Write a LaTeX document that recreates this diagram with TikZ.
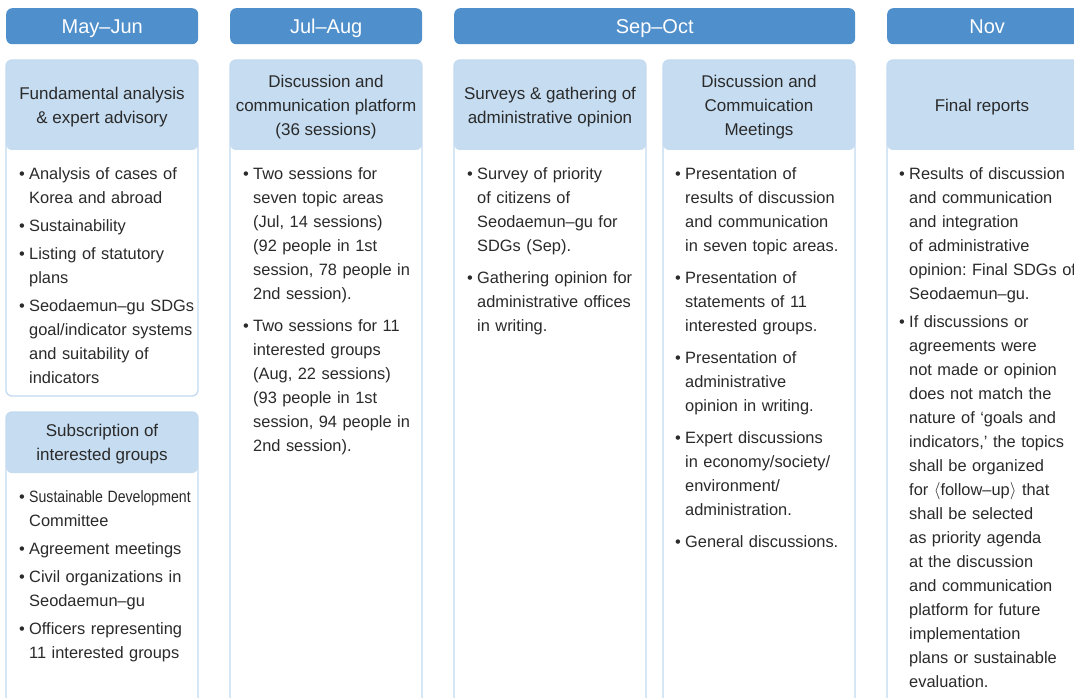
\documentclass[tikz,border=0pt]{standalone}
\usepackage{fontspec}
\usepackage{graphicx}
\setmainfont{Liberation Sans}
\usetikzlibrary{positioning}

\definecolor{monthblue}{HTML}{4F8FCB}
\definecolor{titleblue}{HTML}{C5DCF1}
\definecolor{edgeblue}{HTML}{C3DAF0}
\definecolor{ink}{HTML}{2A2A2A}

\frenchspacing
\newcommand\bul{\hangindent=10pt\hangafter=1\noindent\makebox[10pt][l]{\textbullet}\ignorespaces}
\newcommand\itm[1][4pt]{\par\vspace{#1}\bul}

\begin{document}
\begin{tikzpicture}[x=1pt,y=-1pt,
  month/.style={fill=monthblue,rounded corners=6pt,text=white,font=\fontsize{20}{24}\selectfont,
    minimum width=#1,minimum height=36pt,inner sep=0pt,text height=14.4pt,text depth=0pt,anchor=north west},
  card/.style n args={3}{draw=edgeblue,line width=1.3pt,fill=white,rounded corners=6pt,
    anchor=north west,inner sep=0pt,outer sep=0pt,minimum width=#1,minimum height=#2,
    path picture={\fill[titleblue] (path picture bounding box.north west)
      rectangle ([yshift=-#3]path picture bounding box.north east);}},
  ttl/.style={align=center,text=ink,inner sep=0pt,font=\fontsize{17}{24}\selectfont},
  lst/.style={align=left,text=ink,inner sep=0pt,anchor=north west,text width=190pt,
    font=\fontsize{16.4}{24}\selectfont}
]
\useasboundingbox (0,0) rectangle (1074,698);
\clip (0,0) rectangle (1074,698);

\node[month=192pt] (mayjun) at (6,8) {May–Jun};
\node[month=192pt] (julaug) at (230,8) {Jul–Aug};
\node[month=401pt] (sepoct) at (454,8) {Sep–Oct};
\node[month=200pt] (nov) at (887,8) {Nov};

\node[card={192pt}{336pt}{90pt}] (fund) at (6,60) {};
\node[card={192pt}{300pt}{61pt}] (subs) at (6,412) {};
\node[card={192pt}{660pt}{90pt}] (plat) at (230,60) {};
\node[card={192pt}{660pt}{90pt}] (surv) at (454,60) {};
\node[card={192pt}{660pt}{90pt}] (meet) at (663,60) {};
\node[card={200pt}{660pt}{90pt}] (final) at (887,60) {};

\node[ttl] (fundt) at (102,107) {Fundamental analysis\\\& expert advisory};
\node[ttl] (subst) at (102,444) {Subscription of\\interested groups};
\node[ttl] (platt) at (326,107) {Discussion and\\communication platform\\(36 sessions)};
\node[ttl] (survt) at (550,107) {Surveys \& gathering of\\administrative opinion};
\node[ttl] (meett) at (759,107) {Discussion and\\Commuication\\Meetings};
\node[ttl] (finalt) at (982,107) {Final reports};

\node[lst] (fundl) at (19,167) {\bul Analysis of cases of\newline Korea and abroad
  \itm Sustainability
  \itm Listing of statutory\newline plans
  \itm Seodaemun–gu SDGs\newline goal/indicator systems\newline and suitability of\newline indicators\par};
\node[lst] (subsl) at (19,490) {\bul \scalebox{0.86}[1]{Sustainable Development}\newline Committee
  \itm Agreement meetings
  \itm Civil organizations in\newline Seodaemun–gu
  \itm Officers representing\newline 11 interested groups\par};
\node[lst] (platl) at (243,167) {\bul Two sessions for\newline seven topic areas\newline (Jul, 14 sessions)\newline (92 people in 1st\newline session, 78 people in\newline 2nd session).
  \itm[8pt] Two sessions for 11\newline interested groups\newline (Aug, 22 sessions)\newline (93 people in 1st\newline session, 94 people in\newline 2nd session).\par};
\node[lst] (survl) at (467,167) {\bul Survey of priority\newline of citizens of\newline Seodaemun–gu for\newline SDGs (Sep).
  \itm[8pt] Gathering opinion for\newline administrative offices\newline in writing.\par};
\node[lst] (meetl) at (675,167) {\bul Presentation of\newline results of discussion\newline and communication\newline in seven topic areas.
  \itm[8pt] Presentation of\newline statements of 11\newline interested groups.
  \itm[8pt] Presentation of\newline administrative\newline opinion in writing.
  \itm[8pt] Expert discussions\newline in economy/society/\newline environment/\newline administration.
  \itm[8pt] General discussions.\par};
\node[lst] (finall) at (899,167) {\bul Results of discussion\newline and communication\newline and integration\newline of administrative\newline opinion: Final SDGs of\newline Seodaemun–gu.
  \itm If discussions or\newline agreements were\newline not made or opinion\newline does not match the\newline nature of ‘goals and\newline indicators,’ the topics\newline shall be organized\newline for $\langle$follow–up$\rangle$ that\newline shall be selected\newline as priority agenda\newline at the discussion\newline and communication\newline platform for future\newline implementation\newline plans or sustainable\newline evaluation.\par};
\end{tikzpicture}
\end{document}
